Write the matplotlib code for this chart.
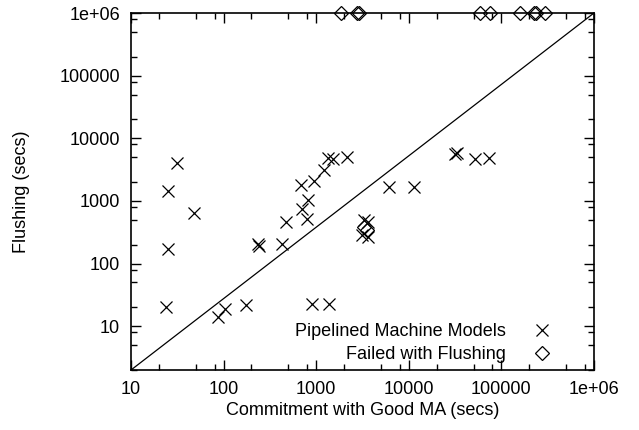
import matplotlib
matplotlib.use("Agg")
import matplotlib.pyplot as plt
from matplotlib.ticker import LogLocator, FixedFormatter, FixedLocator, NullFormatter

plt.rcParams['font.family'] = ['Liberation Sans', 'DejaVu Sans']

# Pipelined machine models: (commitment time, flushing time) in seconds
pipe_x = [24, 31, 25, 48, 25, 88, 104, 175, 233, 243, 431, 468, 685, 697, 801,
          822, 955, 1214, 1352, 1531, 2150, 890, 1390, 6150, 11400, 32900,
          31500, 51900, 74000, 3300, 3600, 3150, 3600]
pipe_y = [20, 4000, 1450, 630, 172, 14, 19, 22, 206, 194, 206, 464, 1770, 750, 506,
          1030, 2075, 3112, 4786, 4660, 5000, 23, 23, 1660, 1660, 5900,
          5550, 4610, 4790, 500, 460, 290, 270]

# runs where flushing failed (plotted at the top of the range)
fail_x = [1850, 2780, 2900, 58750, 75350, 158800, 225100, 236500, 295800, 3250, 3500]
fail_y = [1e6, 1e6, 1e6, 1e6, 1e6, 1e6, 1e6, 1e6, 1e6, 380, 340]

x_range = [10, 1e6]
y_range = [2, 1e6]
major_ticks = [10, 100, 1000, 10000, 100000, 1000000]
tick_labels = ["10", "100", "1000", "10000", "100000", "1e+06"]

fig = plt.figure(figsize=(6.39, 4.30), dpi=100)
ax = fig.add_axes([131 / 639, 60 / 430, 463 / 639, 357 / 430])

ax.set_xscale("log")
ax.set_yscale("log")
ax.set_xlim(x_range)
ax.set_ylim(y_range)

# diagonal reference line, corner to corner
ax.plot(x_range, y_range, color="black", linewidth=0.9)

ax.plot(pipe_x, pipe_y, linestyle="none", marker="x", markersize=9,
        markeredgewidth=0.9, color="black", label="Pipelined Machine Models")
ax.plot(fail_x, fail_y, linestyle="none", marker="D", markersize=7,
        markeredgewidth=0.9, markerfacecolor="none", markeredgecolor="black",
        clip_on=False, label="Failed with Flushing")

for axis in (ax.xaxis, ax.yaxis):
    axis.set_major_locator(FixedLocator(major_ticks))
    axis.set_major_formatter(FixedFormatter(tick_labels))
    axis.set_minor_locator(LogLocator(base=10, subs=(2, 5, 8)))
    axis.set_minor_formatter(NullFormatter())

ax.tick_params(which="both", direction="in", top=True, right=True, labelsize=13)
ax.tick_params(which="major", length=7, width=1, pad=8)
ax.tick_params(which="minor", length=4, width=1)
for s in ax.spines.values():
    s.set_linewidth(1.2)

ax.set_xlabel("Commitment with Good MA (secs)", fontsize=13, labelpad=3)
ax.set_ylabel("Flushing (secs)", fontsize=13, labelpad=21)

ax.legend(loc="lower right", bbox_to_anchor=(0.907, 0.02), borderaxespad=0,
          frameon=False, markerfirst=False, fontsize=13, handlelength=1,
          handletextpad=1.5, labelspacing=0.3, borderpad=0)

fig.savefig("out.png", dpi=100)
